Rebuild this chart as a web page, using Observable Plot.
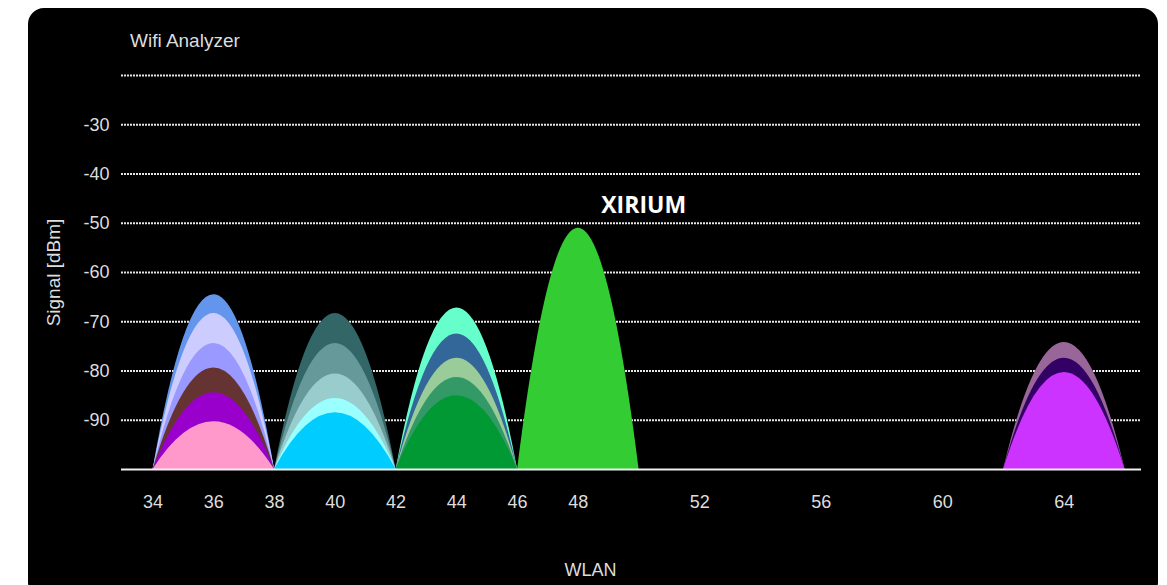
<!DOCTYPE html>
<html><head><meta charset="utf-8">
<script src="https://cdn.jsdelivr.net/npm/d3@7"></script>
<script src="https://cdn.jsdelivr.net/npm/@observablehq/plot@0.6"></script>
<style>
html,body{margin:0;padding:0;background:#fff;}
#wrap{position:relative;width:1167px;height:585px;overflow:hidden;}
#panel{position:absolute;left:28px;top:8px;width:1130px;height:590px;background:#000;border-radius:16px;}
#chart{position:absolute;left:0;top:0;}
#title{position:absolute;left:130px;top:30px;color:#ddd;font:19px "Liberation Sans",Arial,sans-serif;white-space:nowrap;}
</style></head>
<body><div id="wrap"><div id="panel"></div><div id="chart"></div><div id="title">Wifi Analyzer</div></div>
<script>
// Networks: channel, peak signal (dBm), colour
const channels = [36, 36, 36, 36, 36, 36, 40, 40, 40, 40, 40, 44, 44, 44, 44, 44, 48, 64, 64, 64];
const signals = [-64.5, -68.3, -74.4, -79.4, -84.4, -90.3, -68.3, -74.4, -80.6, -85.6, -88.5, -67.2, -72.5, -77.4, -81.3, -85.0, -51.0, -74.2, -77.4, -80.3];
const colors = ["#6495ed", "#ccccff", "#9999ff", "#663333", "#9900cc", "#ff99cc",
  "#336666", "#669999", "#99cccc", "#99ffff", "#00ccff",
  "#66ffcc", "#336699", "#99cc99", "#339966", "#009933",
  "#33cc33",
  "#996699", "#330066", "#cc33ff"];
const xTicks = [34, 36, 38, 40, 42, 44, 46, 48, 52, 56, 60, 64];
const yTicks = [-30, -40, -50, -60, -70, -80, -90];
const gridLevels = [-20, -30, -40, -50, -60, -70, -80, -90];
const floorLevel = -100;
const halfSpan = 2; // channels on each side of centre
const labelTexts = ["XIRIUM"];
const labelChannels = [50.15];
const labelSignals = [-46.4];

// Parabolic arc curve: 3 points (left foot, apex, right foot) -> quadratic arc through apex
function arcCurve(context) {
  let pts = [], line = NaN;
  return {
    areaStart() { line = 0; },
    areaEnd() { line = NaN; },
    lineStart() { pts = []; },
    point(x, y) { pts.push([+x, +y]); },
    lineEnd() {
      if (pts.length) {
        const [x0, y0] = pts[0];
        if (line) context.lineTo(x0, y0); else context.moveTo(x0, y0);
        if (pts.length === 3) {
          const [x1, y1] = pts[1], [x2, y2] = pts[2];
          context.quadraticCurveTo(2 * x1 - (x0 + x2) / 2, 2 * y1 - (y0 + y2) / 2, x2, y2);
        } else {
          for (let i = 1; i < pts.length; ++i) context.lineTo(pts[i][0], pts[i][1]);
        }
      }
      if (line || (line !== 0 && pts.length === 1)) context.closePath();
      line = 1 - line;
    }
  };
}

const networks = channels.map((c, i) => ({id: i, channel: c, signal: signals[i], color: colors[i]}))
  .sort((a, b) => b.signal - a.signal);
const arcPoints = networks.flatMap(n => [
  {id: n.id, x: n.channel - halfSpan, y: floorLevel, color: n.color},
  {id: n.id, x: n.channel, y: n.signal, color: n.color},
  {id: n.id, x: n.channel + halfSpan, y: floorLevel, color: n.color}
]);
const labels = labelTexts.map((t, i) => ({text: t, x: labelChannels[i], y: labelSignals[i]}));

const font = '"Liberation Sans", Arial, sans-serif';
const chart = Plot.plot({
  width: 1167,
  height: 585,
  marginLeft: 121,
  marginRight: 26,
  marginTop: 75,
  marginBottom: 116,
  style: {background: "transparent", color: "#ddd", fontFamily: font, fontSize: "18px"},
  x: {domain: [32.96, 66.54]},
  y: {domain: [-100, -20]},
  marks: [
    Plot.ruleY(gridLevels, {stroke: "#e6e6e6", strokeWidth: 2, strokeDasharray: "2,1"}),
    Plot.areaY(arcPoints, {x: "x", y1: floorLevel, y2: "y", z: "id", fill: "color", curve: arcCurve}),
    Plot.ruleY([floorLevel], {stroke: "#f0f0f0", strokeWidth: 2}),
    Plot.axisY({ticks: yTicks, tickSize: 0, tickPadding: 12, fontSize: 18, fill: "#ddd", label: null, tickFormat: d => String(d)}),
    Plot.axisX({ticks: xTicks, tickSize: 0, tickPadding: 26, fontSize: 18, fill: "#ddd", label: null, tickFormat: d => String(d)}),
    Plot.text(["Signal [dBm]"], {frameAnchor: "left", dx: -68, rotate: -90, textAnchor: "middle", fontSize: 19, fill: "#ddd", text: d => d}),
    Plot.text(["WLAN"], {frameAnchor: "bottom", dx: -41, dy: 106, fontSize: 18, fill: "#ddd", text: d => d}),
    Plot.text(labels, {x: "x", y: "y", text: "text", fill: "white", fontSize: 23, fontWeight: "bold", fontFamily: '"Open Sans", sans-serif'})
  ]
});
document.getElementById("chart").appendChild(chart);
</script>
</body></html>
